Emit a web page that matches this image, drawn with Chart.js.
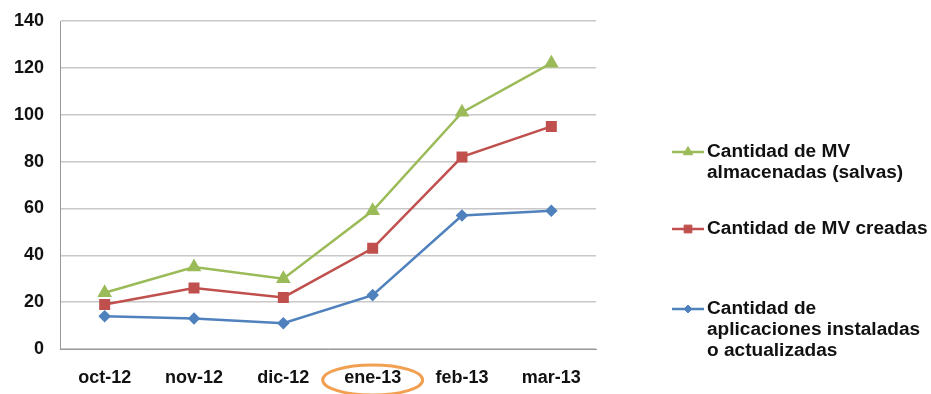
<!DOCTYPE html>
<html>
<head>
<meta charset="utf-8">
<script src="https://cdn.jsdelivr.net/npm/chart.js@4/dist/chart.umd.min.js"></script>
<style>
  html, body { margin: 0; padding: 0; background: #fff; }
  #wrap { width: 931px; height: 394px; position: relative; }
</style>
</head>
<body>
<div id="wrap"><canvas id="chartMV"></canvas></div>
<script>
const meses = ['oct-12', 'nov-12', 'dic-12', 'ene-13', 'feb-13', 'mar-13'];
const almacenadas = [24, 35, 30, 59, 101, 122];
const creadas     = [19, 26, 22, 43, 82, 95];
const aplicaciones = [14, 13, 11, 23, 57, 59];

const FONT = 'Liberation Sans, Arial, sans-serif';

const series = [
  { label: ['Cantidad de MV', 'almacenadas (salvas)'], data: almacenadas, color: '#9bbb59', style: 'triangle', r: 6 },
  { label: ['Cantidad de MV creadas'], data: creadas, color: '#c0504d', style: 'rect', r: 6 },
  { label: ['Cantidad de', 'aplicaciones instaladas', 'o actualizadas'], data: aplicaciones, color: '#4f81bd', style: 'rectRot', r: 4.5 },
];

// legend on the right + circle around the highlighted month
const extras = {
  id: 'extras',
  afterDraw(chart) {
    const ctx = chart.ctx;
    const legendY = [152, 229, 309];
    ctx.save();
    series.forEach((s, i) => {
      const y = legendY[i];
      ctx.strokeStyle = s.color;
      ctx.fillStyle = s.color;
      ctx.lineWidth = 2.5;
      ctx.beginPath();
      ctx.moveTo(672, y);
      ctx.lineTo(704, y);
      ctx.stroke();
      ctx.lineWidth = 1;
      Chart.helpers.drawPoint(ctx, { pointStyle: s.style, radius: s.r - 0.5, borderWidth: 1 }, 688, y);
      ctx.fillStyle = '#111';
      ctx.font = 'bold 18px ' + FONT;
      ctx.textBaseline = 'middle';
      s.label.forEach((t, j) => {
        ctx.save();
        ctx.translate(707, y + j * 21);
        ctx.scale(1.06, 1);
        ctx.fillText(t, 0, 0);
        ctx.restore();
      });
    });

    const x = chart.scales.x.getPixelForValue(3);
    ctx.strokeStyle = '#f0a050';
    ctx.lineWidth = 3;
    ctx.beginPath();
    ctx.ellipse(x, 380, 50, 15, 0, 0, Math.PI * 2);
    ctx.stroke();
    ctx.restore();
  }
};

new Chart(document.getElementById('chartMV'), {
  type: 'line',
  data: {
    labels: meses,
    datasets: series.map(s => ({
      label: s.label.join(' '),
      data: s.data,
      borderColor: s.color,
      backgroundColor: s.color,
      borderWidth: 2.5,
      pointStyle: s.style,
      pointRadius: s.r,
      pointHoverRadius: s.r,
      tension: 0,
    }))
  },
  options: {
    responsive: true, maintainAspectRatio: false, animation: false,
    layout: { padding: { top: 21, right: 335, left: 12, bottom: 0 } },
    plugins: { legend: { display: false }, tooltip: { enabled: false } },
    scales: {
      x: {
        offset: true,
        afterFit: s => { s.height = 45; },
        grid: { display: false, drawTicks: false },
        border: { color: '#999', width: 1 },
        ticks: { color: '#111', font: { family: FONT, size: 18, weight: 'bold' }, padding: 18, maxRotation: 0 }
      },
      y: {
        min: 0, max: 140,
        afterFit: s => { s.width = 48; s.paddingTop = 0; s.paddingBottom = 0; },
        ticks: { stepSize: 20, color: '#111', font: { family: FONT, size: 18, weight: 'bold' }, padding: 16 },
        grid: { color: '#c8c8c8', lineWidth: 1.5, drawTicks: false },
        border: { color: '#999', width: 1 }
      }
    }
  },
  plugins: [extras]
});
</script>
</body>
</html>
